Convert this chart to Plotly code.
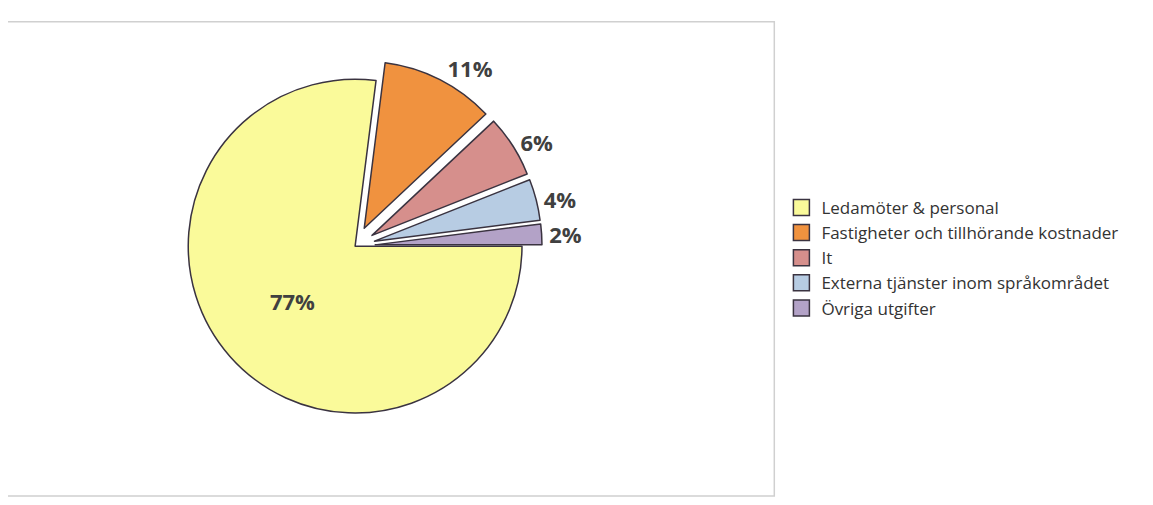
import plotly.graph_objects as go

labels = ["Ledamöter & personal", "Fastigheter och tillhörande kostnader", "It",
          "Externa tjänster inom språkområdet", "Övriga utgifter"]
values = [77, 11, 6, 4, 2]
colors = ["#FAFA9A", "#F0923F", "#D68F8C", "#B7CCE3", "#B3A2C7"]
pulls = [0, 0.12, 0.12, 0.12, 0.12]
textpos = ["inside", "outside", "outside", "outside", "outside"]

W, H = 1153, 505
def fx(px): return (px - 23) / 1136
def fy(py): return 1 - (py - 21.3) / 490

fig = go.Figure(go.Pie(
    labels=labels, values=values, sort=False, direction="clockwise", rotation=90,
    pull=pulls, texttemplate="<b>%{percent:.0%}</b>",
    textposition=textpos, showlegend=False,
    textfont=dict(size=22, color="#404040", family="Open Sans"),
    marker=dict(colors=colors, line=dict(color="#3a3340", width=1.5)),
    domain=dict(x=[fx(175), fx(555)], y=[fy(430), fy(50)]),
))
for lab, col in zip(labels, colors):
    fig.add_trace(go.Scatter(
        x=[None], y=[None], mode="markers", name=lab, legendgroup=lab,
        marker=dict(symbol="square", size=17, color=col,
                    line=dict(color="#3a3340", width=1.5))))
fig.add_shape(type="rect", xref="paper", yref="paper",
              x0=fx(10), x1=fx(778), y0=fy(494), y1=fy(12),
              line=dict(color="#d0d0d0", width=1.5))
fig.update_layout(
    width=W, height=H, margin=dict(l=0, r=0, t=0, b=0),
    paper_bgcolor="white", plot_bgcolor="white",
    xaxis=dict(visible=False), yaxis=dict(visible=False),
    font=dict(family="Open Sans", color="#333"),
    legend=dict(x=fx(785), y=fy(252), xanchor="left", yanchor="middle",
                font=dict(size=17, color="#333"), tracegroupgap=22,
                traceorder="normal"),
)
fig.write_html("out.html")
